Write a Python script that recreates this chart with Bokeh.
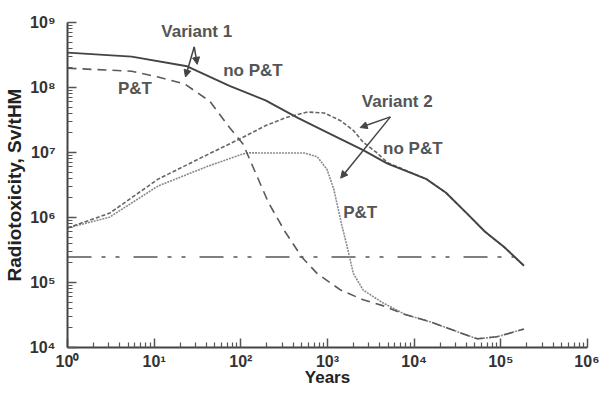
from bokeh.plotting import figure
from bokeh.models import FixedTicker, Arrow, NormalHead
from bokeh.embed import file_html
from bokeh.resources import INLINE
from bokeh.core.properties import value

FONT = "Liberation Sans"

# ---- data ----
# Variant 1, no P&T (solid)
v1_no_years = [1, 5.5, 24, 74, 193, 454, 1100, 2580, 4920, 8280, 13900, 23300, 39200, 65800, 110000, 185000]
v1_no_tox = [3.44e8, 2.99e8, 2.12e8, 1.06e8, 6.34e7, 3.41e7, 1.90e7, 1.09e7, 6.75e6, 5.13e6, 3.89e6,
             2.40e6, 1.21e6, 6.04e5, 3.48e5, 1.81e5]

# Variant 1, P&T (long dashes)
v1_pt_years = [1, 5.5, 11.1, 22.4, 44, 74, 106, 178, 208, 324, 504, 762, 1420, 2580, 4330,
               7850, 15800, 31800, 53500, 89700, 185000]
v1_pt_tox = [1.98e8, 1.78e8, 1.45e8, 1.14e8, 6.12e7, 2.42e7, 1.35e7, 2.75e6, 1.70e6, 6.04e5, 2.47e5,
             1.37e5, 7.64e4, 5.42e4, 4.41e4, 3.23e4, 2.45e4, 1.74e4, 1.36e4, 1.46e4, 1.92e4]

# Variant 2, no P&T (short dashes)
v2_no_years = [1, 3.05, 11.1, 40.7, 95.7, 193, 324, 587, 914, 1420, 1990, 2580, 3610, 4920, 8280,
               13900, 23300, 39200, 65800, 110000, 185000]
v2_no_tox = [6.93e5, 1.16e6, 3.89e6, 9.2e6, 1.60e7, 2.59e7, 3.41e7, 4.20e7, 4.06e7, 3.08e7, 2.18e7,
             1.44e7, 1.02e7, 7.0e6, 5.2e6, 3.9e6, 2.40e6, 1.21e6, 6.04e5, 3.48e5, 1.81e5]

# Variant 2, P&T (dotted)
v2_pt_years = [1, 3.05, 11.1, 40.7, 106, 124, 545, 762, 986, 1180, 1460, 1660, 1990, 2580, 4330,
               7850, 15800, 31800, 53500, 89700, 185000]
v2_pt_tox = [6.93e5, 1.01e6, 3.05e6, 6.08e6, 9.53e6, 9.86e6, 9.80e6, 8.59e6, 5.50e6, 2.75e6, 7.69e5,
             3.86e5, 1.37e5, 7.64e4, 4.89e4, 3.23e4, 2.45e4, 1.74e4, 1.36e4, 1.46e4, 1.92e4]

# Reference level (dash-dot-dot)
ref_years = [1, 185000]
ref_tox = [2.47e5, 2.47e5]

# ticks
x_ticks = [1, 10, 100, 1000, 10000, 100000, 1000000]
x_tick_labels = ["10⁰", "10¹", "10²", "10³", "10⁴", "10⁵", "10⁶"]
y_ticks = [10000, 100000, 1000000, 10000000, 100000000, 1000000000]
y_tick_labels = ["10⁴", "10⁵", "10⁶", "10⁷", "10⁸", "10⁹"]
x_minor = [m * 10 ** e for e in range(0, 6) for m in range(2, 10)]
y_minor = [m * 10 ** e for e in range(4, 9) for m in range(2, 10)]

x_title = "Years"
y_title = "Radiotoxicity, Sv/tHM"

# annotations
ann_text = ["Variant 1", "no P&T", "P&T", "Variant 2", "no P&T", "P&T"]
ann_x = [31, 138, 6.0, 6380, 9660, 2380]
ann_y = [7.33e8, 1.85e8, 9.6e7, 6.12e7, 1.17e7, 1.2e6]

arrow_start = [(29, 4.23e8), (29, 4.23e8), (5320, 3.53e7), (5320, 3.53e7)]
arrow_end = [(23, 1.45e8), (31.4, 2.27e8), (2380, 2.42e7), (1420, 4.03e6)]

# ---- figure ----
p = figure(width=599, height=389, x_axis_type="log", y_axis_type="log",
           x_range=(1, 1e6), y_range=(1e4, 1e9),
           output_backend="svg", toolbar_location=None,
           min_border_left=67, min_border_right=12, min_border_top=22, min_border_bottom=10)
p.outline_line_color = None
p.xgrid.visible = False
p.ygrid.visible = False
p.background_fill_color = "white"

p.xaxis.ticker = FixedTicker(ticks=x_ticks, minor_ticks=x_minor)
p.yaxis.ticker = FixedTicker(ticks=y_ticks, minor_ticks=y_minor)
p.xaxis.major_label_overrides = dict(zip(x_ticks, x_tick_labels))
p.yaxis.major_label_overrides = dict(zip(y_ticks, y_tick_labels))

for ax in (p.xaxis[0], p.yaxis[0]):
    ax.axis_line_width = 2
    ax.axis_line_color = "#444444"
    ax.major_tick_in = 9
    ax.major_tick_out = 0
    ax.minor_tick_in = 5
    ax.minor_tick_out = 0
    ax.major_tick_line_width = 1.5
    ax.minor_tick_line_width = 1.2
    ax.major_tick_line_color = "#555555"
    ax.minor_tick_line_color = "#555555"
    ax.major_label_text_font = FONT
    ax.major_label_text_font_style = "bold"
    ax.major_label_text_font_size = "16px"
    ax.major_label_text_color = "#333333"
    ax.axis_label_text_font = FONT
    ax.axis_label_text_font_style = "bold"
    ax.axis_label_text_color = "#222222"
p.xaxis.major_label_standoff = 5
p.yaxis.major_label_standoff = 12
p.xaxis.axis_label = x_title
p.xaxis.axis_label_text_font_size = "17px"
p.xaxis.axis_label_standoff = -5
p.yaxis.axis_label = y_title
p.yaxis.axis_label_text_font_size = "19px"
p.yaxis.axis_label_standoff = 2

# ---- curves ----
p.line(ref_years, ref_tox, line_color="#555555", line_width=1.6, line_dash="24 10 4 10 4 14")
p.line(v2_pt_years, v2_pt_tox, line_color="#8a8a8a", line_width=1.6, line_dash="2 1")
p.line(v2_no_years, v2_no_tox, line_color="#666666", line_width=1.6, line_dash="4 2")
p.line(v1_pt_years, v1_pt_tox, line_color="#5a5a5a", line_width=1.6, line_dash="9 6")
p.line(v1_no_years, v1_no_tox, line_color="#444444", line_width=1.9)

# ---- annotations ----
p.text(x=ann_x, y=ann_y, text=ann_text, text_font=value(FONT), text_font_style="bold",
       text_font_size="17px", text_color="#555555", text_align="center", text_baseline="middle")

for (x0, y0), (x1, y1) in zip(arrow_start, arrow_end):
    p.add_layout(Arrow(x_start=x0, y_start=y0, x_end=x1, y_end=y1,
                       line_color="#444444", line_width=1.5,
                       end=NormalHead(size=7, fill_color="#444444", line_color="#444444")))

open("out.html", "w").write(file_html(p, INLINE))
